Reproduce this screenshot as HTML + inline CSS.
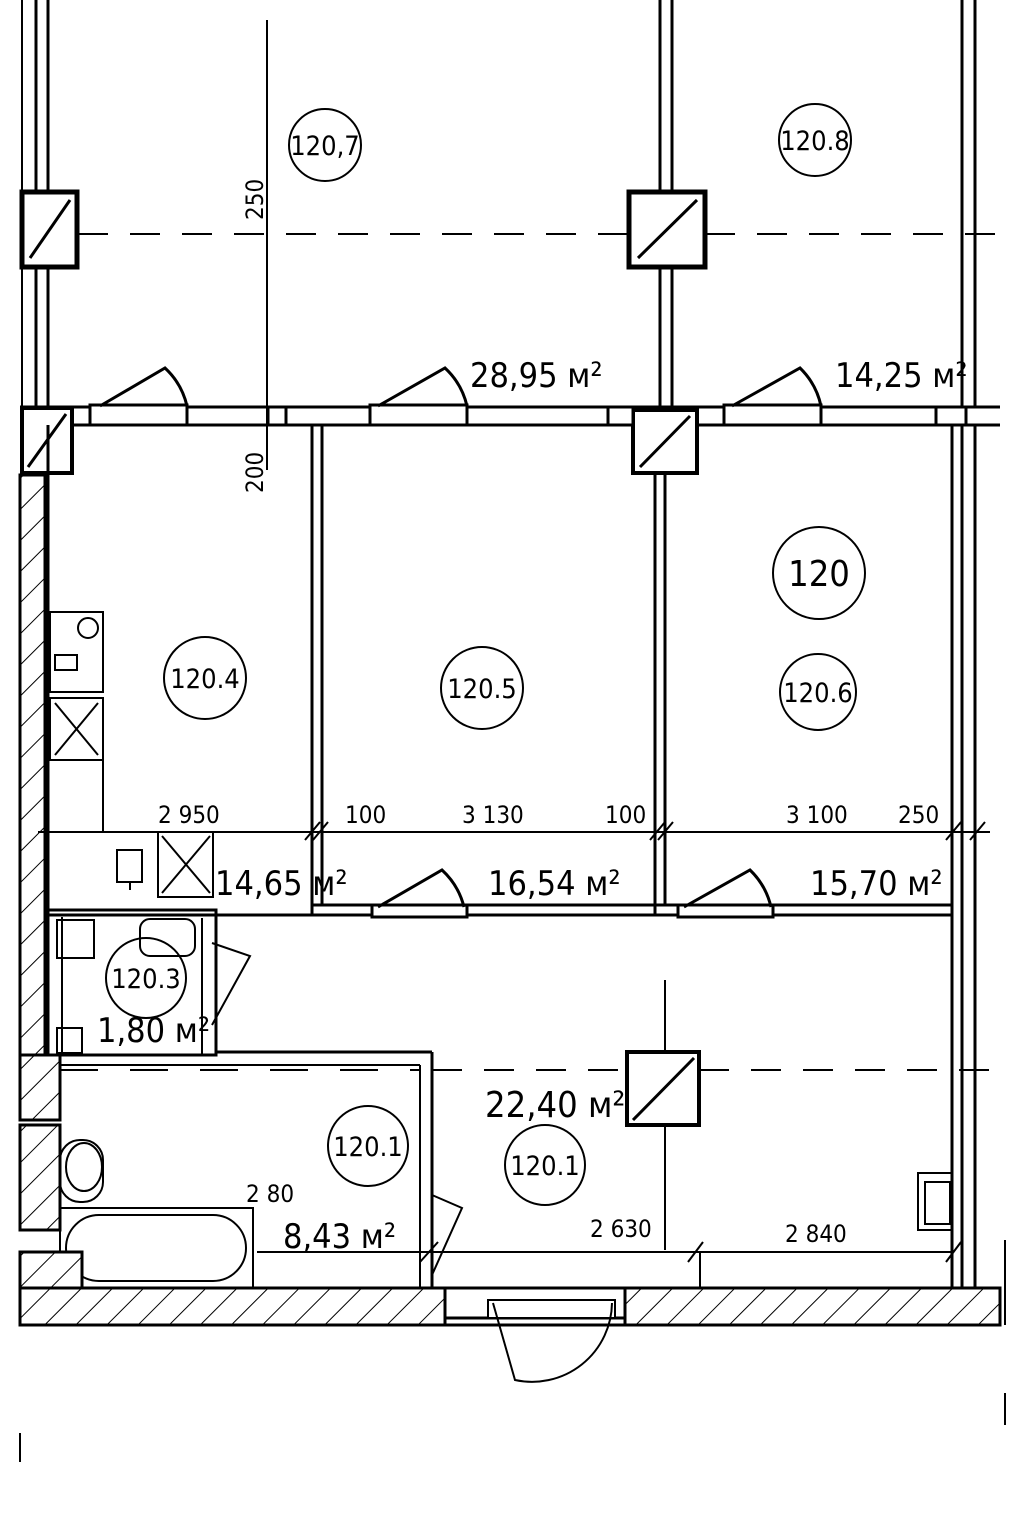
<!DOCTYPE html>
<html><head><meta charset="utf-8"><style>
html,body{margin:0;padding:0;background:#fff;}
svg{display:block}
text{font-family:"DejaVu Sans Condensed","Liberation Sans Narrow","Liberation Sans",sans-serif;fill:#000}
</style></head><body>
<svg width="1024" height="1536" viewBox="0 0 1024 1536" xmlns="http://www.w3.org/2000/svg">
<defs>
<pattern id="h" patternUnits="userSpaceOnUse" width="22" height="22" patternTransform="rotate(45)">
<rect width="22" height="22" fill="#fff"/><line x1="0" y1="0" x2="0" y2="22" stroke="#000" stroke-width="2"/></pattern>
</defs>
<g stroke="#000" fill="none" stroke-width="3">
<line x1="22" y1="0" x2="22" y2="408" stroke-width="2"/>
<line x1="36" y1="0" x2="36" y2="408"/>
<line x1="48" y1="0" x2="48" y2="408"/>
<line x1="660" y1="0" x2="660" y2="408"/>
<line x1="672" y1="0" x2="672" y2="408"/>
<line x1="962" y1="0" x2="962" y2="408"/>
<line x1="975" y1="0" x2="975" y2="408"/>
<rect x="22" y="192" width="55" height="75" stroke-width="5" fill="#fff"/>
<line x1="30" y1="258" x2="70" y2="200"/>
<rect x="629" y="192" width="76" height="75" stroke-width="5" fill="#fff"/>
<line x1="638" y1="258" x2="697" y2="200"/>
<line x1="78" y1="234" x2="629" y2="234" stroke-width="2" stroke-dasharray="30,22"/>
<line x1="705" y1="234" x2="1005" y2="234" stroke-width="2" stroke-dasharray="30,22"/>
<line x1="267" y1="20" x2="267" y2="470" stroke-width="2"/>
<line x1="20" y1="407" x2="1000" y2="407"/>
<line x1="20" y1="425" x2="1000" y2="425"/>
<rect x="22" y="408" width="50" height="65" stroke-width="4" fill="#fff"/>
<line x1="28" y1="467" x2="66" y2="414"/>
<rect x="633" y="410" width="64" height="63" stroke-width="4" fill="#fff"/>
<line x1="640" y1="467" x2="690" y2="416"/>
<rect x="90" y="405" width="97" height="20" fill="#fff"/>
<path d="M100 406 L165 368 A75 75 0 0 1 187 406"/>
<rect x="370" y="405" width="97" height="20" fill="#fff"/>
<path d="M378 406 L445 368 A75 75 0 0 1 467 406"/>
<rect x="724" y="405" width="97" height="20" fill="#fff"/>
<path d="M732 406 L800 368 A75 75 0 0 1 821 406"/>
<rect x="268" y="407" width="18" height="18" fill="#fff"/>
<rect x="608" y="407" width="25" height="18" fill="#fff"/>
<rect x="936" y="407" width="30" height="18" fill="#fff"/>
<rect x="20" y="475" width="25" height="580" fill="url(#h)"/>
<line x1="312" y1="425" x2="312" y2="915"/>
<line x1="322" y1="425" x2="322" y2="905"/>
<line x1="655" y1="473" x2="655" y2="915"/>
<line x1="665" y1="473" x2="665" y2="905"/>
<line x1="312" y1="905" x2="952" y2="905"/>
<line x1="312" y1="915" x2="952" y2="915"/>
<line x1="48" y1="915" x2="312" y2="915"/>
<line x1="48" y1="425" x2="48" y2="1050"/>
<line x1="952" y1="425" x2="952" y2="1290"/>
<line x1="962" y1="425" x2="962" y2="1290"/>
<line x1="975" y1="425" x2="975" y2="1290"/>
<rect x="372" y="905" width="95" height="12" fill="#fff"/>
<path d="M378 907 L442 870 A75 75 0 0 1 464 907"/>
<rect x="678" y="905" width="95" height="12" fill="#fff"/>
<path d="M684 907 L750 870 A75 75 0 0 1 771 907"/>
<line x1="38" y1="832" x2="990" y2="832" stroke-width="2"/>
<line x1="305" y1="840" x2="320" y2="822" stroke-width="2"/>
<line x1="313" y1="840" x2="328" y2="822" stroke-width="2"/>
<line x1="650" y1="840" x2="665" y2="822" stroke-width="2"/>
<line x1="658" y1="840" x2="673" y2="822" stroke-width="2"/>
<line x1="946" y1="840" x2="961" y2="822" stroke-width="2"/>
<line x1="970" y1="840" x2="985" y2="822" stroke-width="2"/>
<rect x="50" y="612" width="53" height="80" stroke-width="2"/>
<circle cx="88" cy="628" r="10" stroke-width="2"/>
<rect x="55" y="655" width="22" height="15" stroke-width="2"/>
<rect x="50" y="698" width="53" height="62" stroke-width="2"/>
<line x1="55" y1="703" x2="98" y2="755" stroke-width="2"/>
<line x1="98" y1="703" x2="55" y2="755" stroke-width="2"/>
<line x1="103" y1="760" x2="103" y2="832" stroke-width="2"/>
<rect x="158" y="832" width="55" height="65" stroke-width="2"/>
<line x1="162" y1="836" x2="210" y2="893" stroke-width="2"/>
<line x1="210" y1="836" x2="162" y2="893" stroke-width="2"/>
<rect x="117" y="850" width="25" height="32" stroke-width="2"/>
<line x1="130" y1="882" x2="130" y2="890" stroke-width="2"/>
<rect x="48" y="910" width="168" height="145" stroke-width="3"/>
<line x1="62" y1="917" x2="62" y2="1055" stroke-width="2"/>
<rect x="57" y="920" width="37" height="38" stroke-width="2"/>
<rect x="57" y="1028" width="25" height="25" stroke-width="2"/>
<rect x="140" y="919" width="55" height="37" rx="10" stroke-width="2"/>
<line x1="202" y1="918" x2="202" y2="1055" stroke-width="2"/>
<path d="M212 943 L250 956 L212 1025" stroke-width="2"/>
<line x1="216" y1="1052" x2="432" y2="1052"/>
<line x1="432" y1="1052" x2="432" y2="1290"/>
<line x1="420" y1="1065" x2="420" y2="1290" stroke-width="2"/>
<line x1="60" y1="1065" x2="420" y2="1065" stroke-width="2"/>
<line x1="60" y1="1070" x2="420" y2="1070" stroke-width="2" stroke-dasharray="38,32"/>
<rect x="20" y="1055" width="40" height="65" fill="url(#h)"/>
<rect x="20" y="1125" width="40" height="105" fill="url(#h)"/>
<rect x="60" y="1140" width="43" height="62" rx="20" stroke-width="2"/>
<ellipse cx="84" cy="1167" rx="18" ry="24" stroke-width="2"/>
<rect x="60" y="1208" width="193" height="80" stroke-width="2"/>
<rect x="66" y="1215" width="180" height="66" rx="33" stroke-width="2"/>
<rect x="20" y="1252" width="62" height="36" fill="url(#h)"/>
<path d="M432 1195 L462 1208 L432 1275" stroke-width="2"/>
<line x1="257" y1="1252" x2="952" y2="1252" stroke-width="2"/>
<line x1="420" y1="1262" x2="438" y2="1242" stroke-width="2"/>
<line x1="688" y1="1262" x2="703" y2="1242" stroke-width="2"/>
<line x1="946" y1="1262" x2="961" y2="1242" stroke-width="2"/>
<line x1="665" y1="980" x2="665" y2="1050" stroke-width="2"/>
<line x1="665" y1="1125" x2="665" y2="1250" stroke-width="2"/>
<line x1="700" y1="1252" x2="700" y2="1288" stroke-width="2"/>
<rect x="627" y="1052" width="72" height="73" stroke-width="4" fill="#fff"/>
<line x1="633" y1="1120" x2="694" y2="1058"/>
<line x1="432" y1="1070" x2="627" y2="1070" stroke-width="2" stroke-dasharray="30,22"/>
<line x1="699" y1="1070" x2="1005" y2="1070" stroke-width="2" stroke-dasharray="30,22"/>
<rect x="918" y="1173" width="34" height="57" stroke-width="2"/>
<rect x="925" y="1182" width="25" height="42" stroke-width="2"/>
<rect x="20" y="1288" width="425" height="37" fill="url(#h)"/>
<rect x="625" y="1288" width="375" height="37" fill="url(#h)"/>
<rect x="445" y="1288" width="180" height="30" fill="#fff"/>
<rect x="488" y="1300" width="127" height="18" fill="#fff" stroke-width="2"/>
<path d="M493 1303 L515 1380 A80 80 0 0 0 612 1303" stroke-width="2"/>
<line x1="20" y1="1325" x2="1000" y2="1325"/>
<line x1="20" y1="1288" x2="20" y2="1325"/>
<line x1="1005" y1="1240" x2="1005" y2="1325" stroke-width="2"/>
<line x1="20" y1="1433" x2="20" y2="1462" stroke-width="2"/>
<line x1="1005" y1="1393" x2="1005" y2="1425" stroke-width="2"/>
</g>
<g font-size="27">
<g fill="none" stroke="#000" stroke-width="2">
<circle cx="325" cy="145" r="36"/><circle cx="815" cy="140" r="36"/>
<circle cx="205" cy="678" r="41"/><circle cx="482" cy="688" r="41"/>
<circle cx="819" cy="573" r="46"/><circle cx="818" cy="692" r="38"/>
<circle cx="146" cy="978" r="40"/><circle cx="368" cy="1146" r="40"/><circle cx="545" cy="1165" r="40"/>
</g>
<text x="325" y="155" text-anchor="middle">120,7</text>
<text x="815" y="150" text-anchor="middle">120.8</text>
<text x="205" y="688" text-anchor="middle">120.4</text>
<text x="482" y="698" text-anchor="middle">120.5</text>
<text x="819" y="586" text-anchor="middle" font-size="36">120</text>
<text x="818" y="702" text-anchor="middle">120.6</text>
<text x="146" y="988" text-anchor="middle">120.3</text>
<text x="368" y="1156" text-anchor="middle">120.1</text>
<text x="545" y="1175" text-anchor="middle">120.1</text>
<text x="470" y="387" font-size="34">28,95 м²</text>
<text x="835" y="387" font-size="34">14,25 м²</text>
<text x="215" y="895" font-size="34">14,65 м²</text>
<text x="488" y="895" font-size="34">16,54 м²</text>
<text x="810" y="895" font-size="34">15,70 м²</text>
<text x="97" y="1042" font-size="34">1,80 м²</text>
<text x="283" y="1248" font-size="34">8,43 м²</text>
<text x="485" y="1117" font-size="36">22,40 м²</text>
</g>
<g font-size="24">
<text x="158" y="823">2 950</text><text x="345" y="823">100</text><text x="462" y="823">3 130</text>
<text x="605" y="823">100</text><text x="786" y="823">3 100</text><text x="898" y="823">250</text>
<text x="246" y="1202">2 80</text><text x="590" y="1237">2 630</text><text x="785" y="1242">2 840</text>
<text transform="translate(263 220) rotate(-90)">250</text>
<text transform="translate(263 493) rotate(-90)">200</text>
</g>
</svg>
</body></html>
